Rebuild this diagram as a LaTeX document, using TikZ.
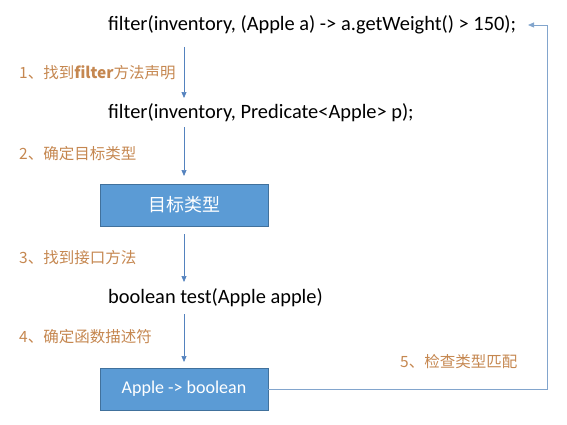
\documentclass[tikz,border=0pt]{standalone}
\usepackage{fontspec}
\setmainfont{Carlito}
\newfontfamily\cjk{Noto Sans CJK SC}
\usetikzlibrary{arrows.meta}
\definecolor{lblc}{RGB}{197,135,80}
\definecolor{arrc}{RGB}{84,130,190}
\definecolor{fbc}{RGB}{130,165,205}
\definecolor{boxf}{RGB}{91,155,213}
\definecolor{boxd}{RGB}{65,113,156}
\tikzset{
  code/.style={font=\fontsize{20.4}{24}\selectfont, inner sep=0pt, anchor=west},
  lbl/.style={font=\cjk\fontsize{15.5}{18}\selectfont, text=lblc, inner sep=0pt, anchor=west},
  bbox/.style={draw=boxd, fill=boxf, line width=0.8pt, minimum width=168pt, minimum height=42pt, text=white, inner sep=0pt},
  arr/.style={draw=arrc, line width=0.7pt, -{Triangle[length=6pt,width=5pt]}},
  fb/.style={draw=fbc, line width=0.8pt, -{Triangle[length=6pt,width=5pt]}}
}
\begin{document}
\begin{tikzpicture}[x=1pt,y=1pt]
\useasboundingbox (0,0) rectangle (567,424);
\node[code] (t1) at (108,399) {filter(inventory, (Apple a) -> a.getWeight() > 150);};
\node[code] (t2) at (108,311) {filter(inventory, Predicate<Apple> p);};
\node[bbox, font=\cjk\fontsize{18}{20}\selectfont] (b1) at (184,219) {目标类型};
\node[code] (t3) at (108,126) {boolean test(Apple apple)};
\node[bbox, font=\fontsize{18}{21}\selectfont] (b2) at (184,35) {Apple -> boolean};
\node[lbl] (l1) at (19,351) {1、找到\textbf{filter}方法声明};
\node[lbl] (l2) at (19,270) {2、确定目标类型};
\node[lbl] (l3) at (19,166) {3、找到接口方法};
\node[lbl] (l4) at (19,87) {4、确定函数描述符};
\node[lbl] (l5) at (400,62) {5、检查类型匹配};
\coordinate (a1s) at (184,377);
\coordinate (a1e) at (184,326);
\coordinate (a2s) at (184,297);
\coordinate (a2e) at (184,248);
\coordinate (a3s) at (184,190);
\coordinate (a3e) at (184,142);
\coordinate (a4s) at (184,110);
\coordinate (a4e) at (184,62);
\coordinate (c1) at (547,35);
\coordinate (c2) at (547,399);
\coordinate (fe) at (528,399);
\draw[arr] (a1s) -- (a1e);
\draw[arr] (a2s) -- (a2e);
\draw[arr] (a3s) -- (a3e);
\draw[arr] (a4s) -- (a4e);
\draw[fb] (b2.east) -- (c1) -- (c2) -- (fe);
\end{tikzpicture}
\end{document}
